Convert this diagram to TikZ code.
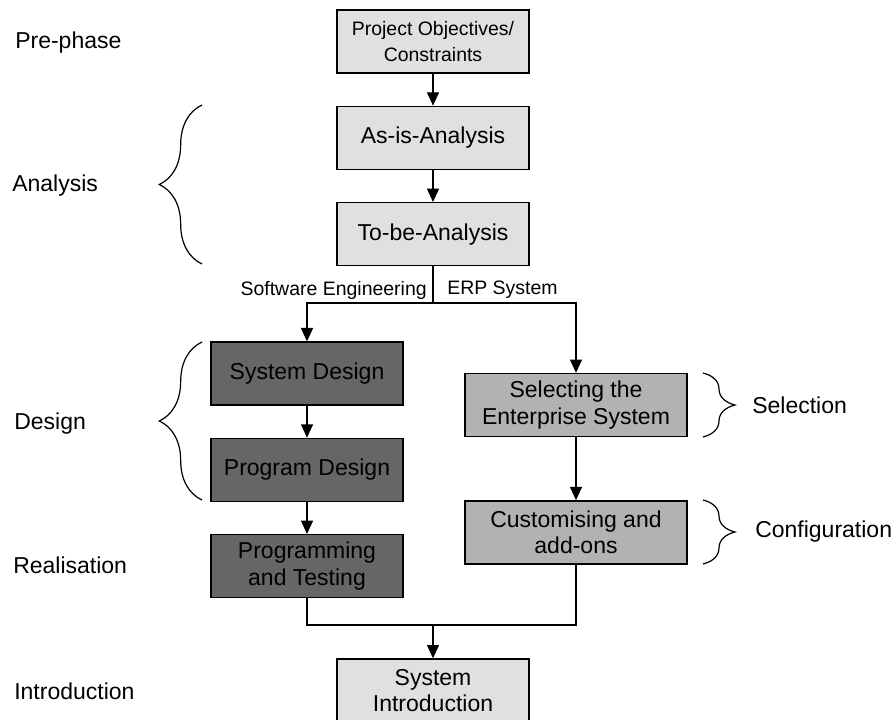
\documentclass[tikz,border=0pt]{standalone}
\usepackage{fontspec}
\setmainfont{Liberation Sans}
\usepackage{tikz}
\usetikzlibrary{
  arrows.meta,
  positioning,
  decorations.pathreplacing
}
\definecolor{phaselight}{RGB}{224,224,224}
\definecolor{phasemid}{RGB}{178,178,178}
\definecolor{phasedark}{RGB}{102,102,102}
\newcommand{\bigfont}{\fontsize{17.25}{20}\selectfont}
\newcommand{\smallfont}{\fontsize{14.6}{19.5}\selectfont}

\begin{document}
\begin{tikzpicture}[
  x=0.75pt, y=-0.75pt,
  node distance=24pt,
  every node/.style={font=\bigfont},
  box/.style={rectangle, minimum width=144pt, minimum height=47.25pt,
    align=center, draw=black, line width=1pt, fill=phaselight, inner sep=2pt},
  darkbox/.style={box, fill=phasedark},
  erpbox/.style={box, minimum width=166.5pt, fill=phasemid},
  phase/.style={anchor=west, inner sep=0pt},
  arr/.style={-{Triangle[length=10pt, width=9pt]}, line width=1pt},
  line/.style={line width=1pt},
  curly/.style={decorate, decoration={brace, amplitude=#1}, line width=0.9pt}
]
  \useasboundingbox (0,0) rectangle (896,720);

  % main column
  \node[box, font=\smallfont] (obj) at (433,41.5) {Project Objectives/\\Constraints};
  \node[box, below=of obj] (asis) {As-is-Analysis};
  \node[box, below=of asis] (tobe) {To-be-Analysis};

  % software engineering branch
  \node[darkbox] (sysd) at (307,373.5) {System Design};
  \node[darkbox, below=of sysd] (progd) {Program Design};
  \node[darkbox, below=of progd] (progt) {Programming\\and Testing};

  % ERP branch
  \node[erpbox] (sel) at (576,405) {Selecting the\\Enterprise System};
  \node[erpbox, below=47.25pt of sel] (cust) {Customising and\\add-ons};

  \node[box] (intro) at (433,690.5) {System\\Introduction};

  \foreach \f/\t in {obj/asis, asis/tobe, sysd/progd, progd/progt, sel/cust} {
    \draw[arr] (\f) -- (\t);
  }

  % fork
  \coordinate (fork) at (433,303);
  \draw[line] (tobe.south) -- (fork);
  \draw[arr] (fork) -| (sysd.north);
  \draw[arr] (fork) -| (sel.north);
  \node[font=\smallfont, anchor=east, inner sep=0pt] (swe) at (427,290) {Software Engineering};
  \node[font=\smallfont, anchor=west, inner sep=0pt] (erp) at (447,290) {ERP System};

  % merge
  \coordinate (merge) at (433,625);
  \draw[line] (progt.south) |- (merge) -| (cust.south);
  \draw[arr] (merge) -- (intro.north);

  % phases
  \node[phase] (pre) at (15,43) {Pre-phase};
  \node[phase] (ana) at (12,186) {Analysis};
  \node[phase] (des) at (14,424) {Design};
  \node[phase] (rea) at (13,565) {Realisation};
  \node[phase] (int) at (14,691) {Introduction};
  \node[phase] (slc) at (752,405) {Selection};
  \node[phase] (cfg) at (755,532) {Configuration};

  % braces
  \draw[curly=32pt] (202,264) -- (202,105);
  \draw[curly=32pt] (202,500) -- (202,342);
  \draw[curly=24pt] (703,373) -- (703,437);
  \draw[curly=24pt] (703,500) -- (703,564);
\end{tikzpicture}
\end{document}
